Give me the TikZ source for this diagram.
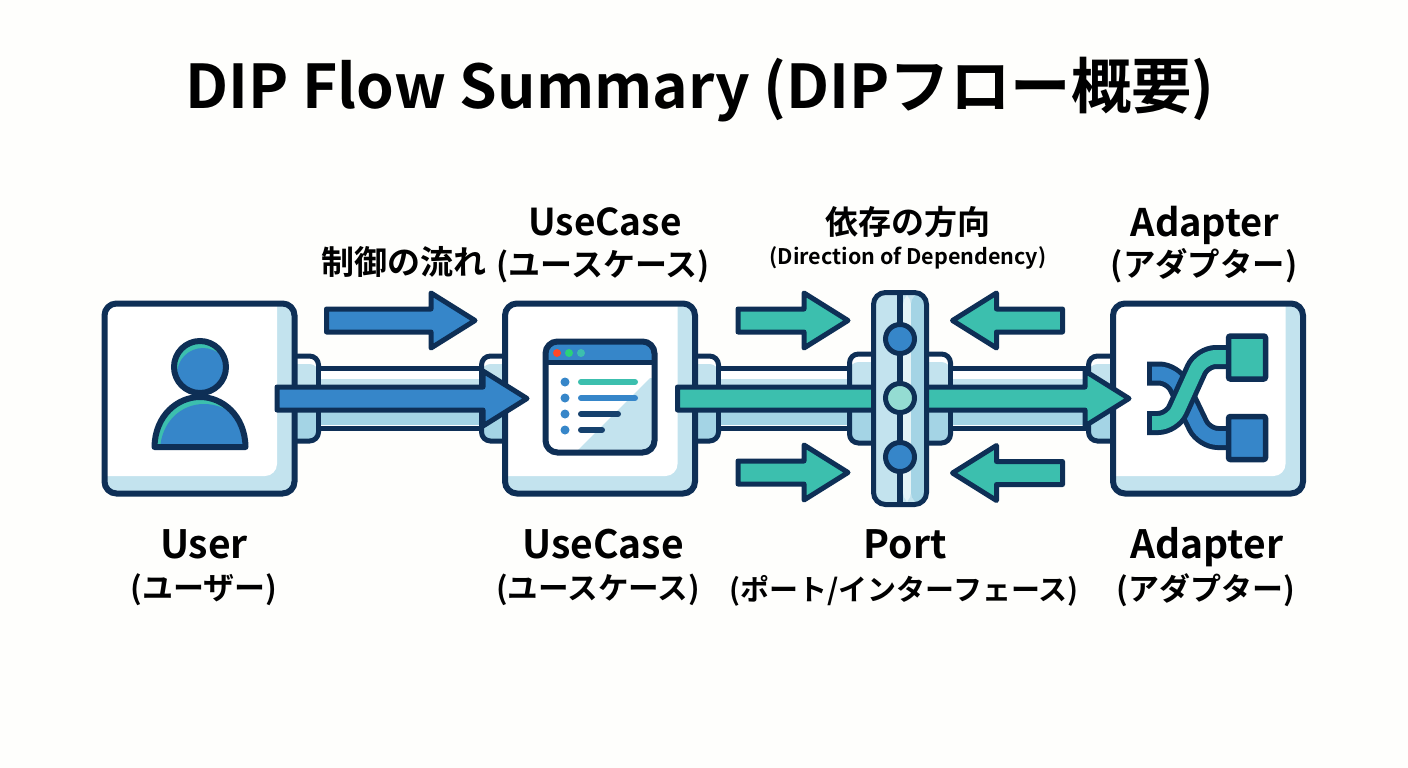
\documentclass[tikz,border=0pt]{standalone}
\usepackage{fontspec}
\setmainfont{Noto Sans CJK JP}[BoldFont={Noto Sans CJK JP Bold}]
\usetikzlibrary{calc}
\definecolor{ink}{HTML}{0E2F56}
\definecolor{bluef}{HTML}{3686C9}
\definecolor{tealf}{HTML}{3CBFAE}
\definecolor{lightf}{HTML}{C3E3EE}
\definecolor{darkf}{HTML}{A4D4E5}
\definecolor{paper}{HTML}{FEFEFC}
\newcommand{\txt}[2]{\fontsize{#1}{#1}\selectfont\bfseries #2}
\newcommand{\blockarrow}[3]{%
  \path let \p1=(#1),\p2=(#2),\n1={ifthenelse(\x2>\x1,1,-1)} in
   [draw=ink,line width=5pt,line join=round,fill=#3]
   (\x1,\y1-11.5pt) -- (\x2-\n1*44pt,\y1-11.5pt) -- (\x2-\n1*44pt,\y1-27.5pt) -- (\x2,\y1)
   -- (\x2-\n1*44pt,\y1+27.5pt) -- (\x2-\n1*44pt,\y1+11.5pt) -- (\x1,\y1+11.5pt) -- cycle;}
\tikzset{
  x=1pt,y=-1pt,
  card/.style={draw=ink,line width=6pt,rounded corners=12pt,minimum width=190pt,minimum height=190pt,inner sep=0pt,fill=lightf,
    path picture={\fill[white,rounded corners=12pt]
      ($(path picture bounding box.north west)+(-20,-20)$) rectangle ($(path picture bounding box.south east)+(-17.5,-17.5)$);}},
  stub/.style={draw=ink,line width=5pt,rounded corners=9pt,inner sep=0pt,fill=white,minimum height=85pt,
    path picture={
      \fill[lightf] ($(path picture bounding box.north west)+(0,8)$) rectangle (path picture bounding box.east);
      \fill[darkf] (path picture bounding box.west) rectangle (path picture bounding box.south east);}},
  bar/.style={draw=ink,line width=5pt,rounded corners=12pt,inner sep=0pt,minimum width=53pt,minimum height=212pt,fill=lightf,
    path picture={
      \fill[white!55!lightf] ($(path picture bounding box.north)+(3,0)$) rectangle ($(path picture bounding box.south)+(11,0)$);
      \fill[darkf] ($(path picture bounding box.north)+(11,0)$) rectangle ($(path picture bounding box.south)+(25,0)$);}},
  pin/.style={circle,draw=ink,line width=5pt,inner sep=0pt,minimum size=29pt},
  railline/.style={draw=ink,line width=5pt},
  dot/.style={circle,inner sep=0pt,minimum size=8pt},
  bullet/.style={circle,fill=bluef,inner sep=0pt,minimum size=9pt},
  listline/.style={line width=6pt,line cap=round},
  lab/.style={inner sep=0pt,text=black,font=\txt{#1}{}},
  squarebox/.style={draw=ink,line width=5.5pt,rounded corners=2pt,inner sep=0pt,minimum width=37pt,minimum height=43pt},
}
\newcommand{\rail}[2]{%
  \fill[white] ($(#1.east)+(0,-30)$) rectangle ($(#2.west)+(0,30)$);
  \fill[lightf] ($(#1.east)+(0,-20)$) rectangle ($(#2.west)+(0,0)$);
  \fill[darkf] ($(#1.east)+(0,0)$) rectangle ($(#2.west)+(0,26)$);
  \draw[railline] ($(#1.east)+(0,-30)$) -- ($(#2.west)+(0,-30)$);
  \draw[railline] ($(#1.east)+(0,30)$) -- ($(#2.west)+(0,30)$);}
\begin{document}
\begin{tikzpicture}
\useasboundingbox (0,0) rectangle (1408,768);
\fill[paper] (0,0) rectangle (1408,768);
% title
\node[lab=60.4] (title) at (700,90) {DIP Flow Summary (DIPフロー概要)};
% stubs
\node[stub,minimum width=43pt] (s1) at (297,398.5) {};
\node[stub,minimum width=43pt] (s2) at (503,398.5) {};
\node[stub,minimum width=43pt] (s3) at (697,398.5) {};
\node[stub,minimum width=43pt] (s5) at (1110,398.5) {};
\node[stub,minimum width=101pt,minimum height=89pt] (s4) at (900,398.5) {};
% rails
\rail{s1}{s2}
\rail{s3}{s4}
\rail{s4}{s5}
% cards
\node[card] (user) at (199.5,398.5) {};
\node[card] (usecase) at (600,398.5) {};
\node[card] (adapter) at (1208,398.5) {};
% person icon
\begin{scope}
  \clip (200,367) circle (26);
  \fill[tealf] (200,367) circle (26);
  \fill[bluef] (203,374) circle (26);
\end{scope}
\node[circle,draw=ink,line width=6pt,inner sep=0pt,minimum size=52pt] (head) at (200,367) {};
\begin{scope}
  \clip (154.5,447) .. controls (155,415) and (178,397) .. (200,397) .. controls (222,397) and (245,415) .. (245.5,447) -- cycle;
  \fill[tealf] (150,390) rectangle (250,450);
  \fill[bluef] (160,450) .. controls (161,422) and (181,404) .. (204,404) .. controls (226,404) and (250,420) .. (250,450) -- cycle;
\end{scope}
\draw[ink,line width=6pt,line join=round] (154.5,447) .. controls (155,415) and (178,397) .. (200,397) .. controls (222,397) and (245,415) .. (245.5,447) -- cycle;
% window icon
\begin{scope}
  \clip[rounded corners=12pt] (545.5,341.5) rectangle (654.5,452.5);
  \fill[white] (545,341) rectangle (655,453);
  \fill[bluef] (545,341) rectangle (655,363);
  \fill[lightf] (650,378) -- (575,453) -- (655,453) -- (655,378) -- cycle;
\end{scope}
\draw[ink,line width=5pt] (545.5,362.5) -- (654.5,362.5);
\draw[ink,line width=6pt,rounded corners=12pt] (545.5,341.5) rectangle (654.5,452.5);
\node[dot,fill=red!70!orange!85!white] (d1) at (557,353) {};
\node[dot,fill=tealf!70!green] (d2) at (569,353) {};
\node[dot,fill=tealf] (d3) at (581,353) {};
\node[bullet] (b1) at (565,382) {};
\node[bullet] (b2) at (565,398) {};
\node[bullet] (b3) at (565,414) {};
\node[bullet] (b4) at (565,430) {};
\draw[listline,tealf] (581,382) -- (635,382);
\draw[listline,bluef] (581,398) -- (635,398);
\draw[listline,ink!80!bluef] (581,414) -- (618,414);
\draw[listline,ink!80!bluef] (581,430) -- (602,430);
% adapter icon
\draw[ink,line width=24pt,rounded corners=14pt] (1147,373.5) -- (1173,373.5) -- (1204,438) -- (1228,438);
\draw[bluef,line width=14pt,rounded corners=14pt] (1152,373.5) -- (1173,373.5) -- (1204,438) -- (1228,438);
\draw[ink,line width=24pt,rounded corners=14pt] (1147,423) -- (1172,423) -- (1202,357) -- (1228,357);
\draw[tealf,line width=14pt,rounded corners=14pt] (1152,423) -- (1172,423) -- (1202,357) -- (1228,357);
\node[squarebox,fill=tealf] (sqa) at (1247,357.5) {};
\node[squarebox,fill=bluef] (sqb) at (1247,438) {};
% main arrows
\coordinate (uo) at ($(user.east)+(-20.5,0)$);
\coordinate (ui) at ($(usecase.west)+(25,0)$);
\blockarrow{uo}{ui}{bluef}
\coordinate (co) at ($(usecase.east)+(-20.5,0)$);
\coordinate (ai) at ($(adapter.west)+(19,0)$);
\blockarrow{co}{ai}{tealf}
% port bar
\node[bar] (port) at (900,398.5) {};
\draw[ink,line width=6pt] (port.north) -- (port.south);
\node[pin,fill=bluef] (p1) at (900,339) {};
\node[pin,fill=tealf!55!white] (p2) at (900,398) {};
\node[pin,fill=bluef] (p3) at (900,457) {};
% upper and lower arrows
\coordinate (a1) at (326.5,320.5); \coordinate (a2) at (475,320.5);
\blockarrow{a1}{a2}{bluef}
\coordinate (a3) at (738,320.5); \coordinate (a4) at (848,320.5);
\blockarrow{a3}{a4}{tealf}
\coordinate (a5) at (738,472.5); \coordinate (a6) at (848,472.5);
\blockarrow{a5}{a6}{tealf}
\coordinate (a7) at (1062.5,320.5); \coordinate (a8) at (952.5,320.5);
\blockarrow{a7}{a8}{tealf}
\coordinate (a9) at (1062.5,473); \coordinate (a10) at (952.5,473);
\blockarrow{a9}{a10}{tealf}
% labels
\node[lab=33] (l1) at (404,262) {制御の流れ};
\node[lab=37] (l2) at (605,222) {UseCase};
\node[lab=32] (l3) at (603,266) {(ユースケース)};
\node[lab=33] (l4) at (908,222) {依存の方向};
\node[lab=21.5] (l5) at (908,258) {(Direction of Dependency)};
\node[lab=38,anchor=base] (l6) at (1205,236) {Adapter};
\node[lab=32.4] (l7) at (1204,266) {(アダプター)};
\node[lab=39,anchor=base] (l8) at (204,558) {User};
\node[lab=31] (l9) at (204,590) {(ユーザー)};
\node[lab=39,anchor=base] (l10) at (603,558) {UseCase};
\node[lab=30.6] (l11) at (598,590) {(ユースケース)};
\node[lab=39,anchor=base] (l12) at (905,558) {Port};
\node[lab=29] (l13) at (904,591) {(ポート/インターフェース)};
\node[lab=39,anchor=base] (l14) at (1207,558) {Adapter};
\node[lab=31] (l15) at (1206,590) {(アダプター)};
\end{tikzpicture}
\end{document}
